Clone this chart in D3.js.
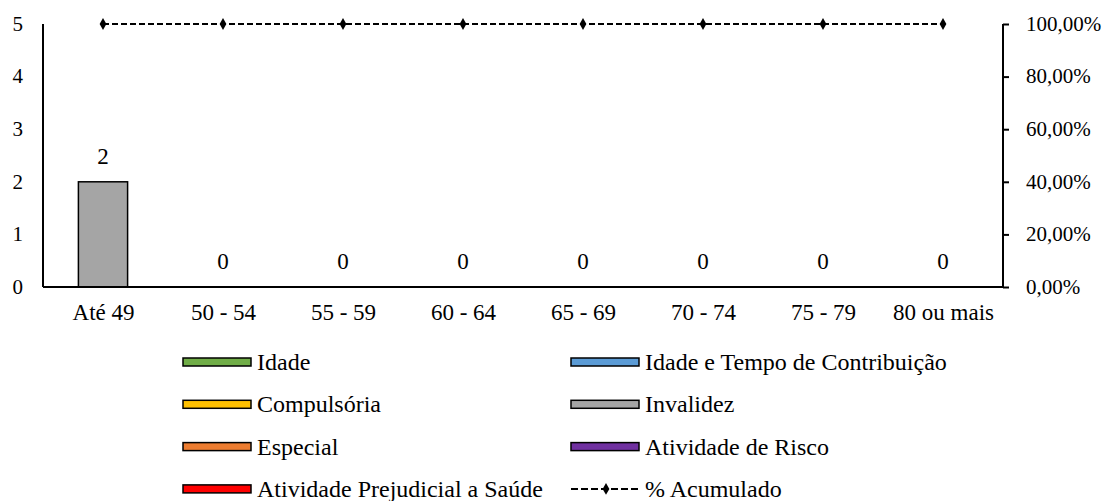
<!DOCTYPE html>
<html>
<head>
<meta charset="utf-8">
<script src="https://cdn.jsdelivr.net/npm/d3@7"></script>
<style>
  body { margin: 0; background: #fff; }
  #chart text { font-family: "Liberation Serif", serif; fill: #000; }
  #chart .eixo-y text { font-size: 21px; }
  #chart .eixo-x text, #chart .rotulos text { font-size: 23px; }
  #chart .legenda text { font-size: 24px; }
</style>
</head>
<body>
<svg id="chart" width="1112" height="501"></svg>
<script>
// faixas etárias
var categorias = ["Até 49", "50 - 54", "55 - 59", "60 - 64", "65 - 69", "70 - 74", "75 - 79", "80 ou mais"];

// séries (quantidade por tipo)
var idade                = [0, 0, 0, 0, 0, 0, 0, 0];
var idadeTempo           = [0, 0, 0, 0, 0, 0, 0, 0];
var compulsoria          = [0, 0, 0, 0, 0, 0, 0, 0];
var invalidez            = [2, 0, 0, 0, 0, 0, 0, 0];
var especial             = [0, 0, 0, 0, 0, 0, 0, 0];
var atividadeRisco       = [0, 0, 0, 0, 0, 0, 0, 0];
var atividadePrejudicial = [0, 0, 0, 0, 0, 0, 0, 0];
var acumulado            = [1, 1, 1, 1, 1, 1, 1, 1];

var ticksEsq = [0, 1, 2, 3, 4, 5];
var ticksDir = [0, 0.2, 0.4, 0.6, 0.8, 1];

var series = [
  {key: "idade", nome: "Idade", cor: "#70ad47", v: idade},
  {key: "idadeTempo", nome: "Idade e Tempo de Contribuição", cor: "#5b9bd5", v: idadeTempo},
  {key: "compulsoria", nome: "Compulsória", cor: "#ffc000", v: compulsoria},
  {key: "invalidez", nome: "Invalidez", cor: "#a5a5a5", v: invalidez},
  {key: "especial", nome: "Especial", cor: "#ed7d31", v: especial},
  {key: "atividadeRisco", nome: "Atividade de Risco", cor: "#7030a0", v: atividadeRisco},
  {key: "atividadePrejudicial", nome: "Atividade Prejudicial a Saúde", cor: "#ff0000", v: atividadePrejudicial}
];

var m = {l: 43, r: 1003, t: 24, b: 287};
var svg = d3.select("#chart");

var x = d3.scaleBand().domain(categorias).range([m.l, m.r]).paddingInner(0.59).paddingOuter(0.295);
var xc = d3.scalePoint().domain(categorias).range([m.l, m.r]).padding(0.5);
var y = d3.scaleLinear().domain([0, 5]).range([m.b, m.t]);
var y2 = d3.scaleLinear().domain([0, 1]).range([m.b, m.t]);

// tabela para o stack
var tabela = categorias.map(function (c, i) {
  var o = {cat: c};
  series.forEach(function (s) { o[s.key] = s.v[i]; });
  return o;
});
var stack = d3.stack().keys(series.map(function (s) { return s.key; }))(tabela);

svg.append("g").selectAll("g").data(stack).enter().append("g")
  .attr("fill", function (d, i) { return series[i].cor; })
  .selectAll("rect").data(function (d) { return d; }).enter()
  .filter(function (d) { return d[1] - d[0] > 0; })
  .append("rect")
  .attr("x", function (d) { return x(d.data.cat); })
  .attr("width", x.bandwidth())
  .attr("y", function (d) { return y(d[1]); })
  .attr("height", function (d) { return y(d[0]) - y(d[1]); })
  .attr("stroke", "#000").attr("stroke-width", 1.5);

// totais
var totais = categorias.map(function (c, i) {
  return d3.sum(series, function (s) { return s.v[i]; });
});
svg.append("g").attr("class", "rotulos").selectAll("text").data(totais).enter().append("text")
  .attr("x", function (d, i) { return xc(categorias[i]); })
  .attr("y", function (d) { return y(d) - 18; })
  .attr("text-anchor", "middle")
  .text(function (d) { return d; });

// eixos
var axEsq = svg.append("g").attr("class", "eixo-y").attr("transform", "translate(" + m.l + ",0)")
  .call(d3.axisLeft(y).tickValues(ticksEsq).tickSize(0).tickPadding(20).tickFormat(d3.format("d")));
var axDir = svg.append("g").attr("class", "eixo-y").attr("transform", "translate(" + m.r + ",0)")
  .call(d3.axisRight(y2).tickValues(ticksDir).tickSize(6).tickPadding(17)
    .tickFormat(function (d) { return (d * 100).toFixed(2).replace(".", ",") + "%"; }));
var axBase = svg.append("g").attr("class", "eixo-x").attr("transform", "translate(0," + m.b + ")")
  .call(d3.axisBottom(xc).tickSize(0).tickPadding(17));

[axEsq, axDir, axBase].forEach(function (a) {
  a.attr("font-family", null).attr("font-size", null);
  a.select(".domain").attr("stroke", "#000").attr("stroke-width", 2);
  a.selectAll(".tick line").attr("stroke", "#000").attr("stroke-width", 2);
});
axEsq.select(".domain").attr("d", "M0," + m.t + "V" + m.b);
axDir.select(".domain").attr("d", "M0," + m.t + "V" + m.b);
axBase.select(".domain").attr("d", "M" + m.l + ",0H" + m.r);
axEsq.selectAll("text").attr("dy", "0.3em");
axDir.selectAll("text").attr("dy", "0.3em");
axBase.selectAll("text").attr("dy", "0.71em");

// linha % acumulado
var linha = d3.line()
  .x(function (d, i) { return xc(categorias[i]); })
  .y(function (d) { return y2(d); });
svg.append("path").datum(acumulado).attr("d", linha)
  .attr("fill", "none").attr("stroke", "#000").attr("stroke-width", 2).attr("stroke-dasharray", "6,3");
var diamante = d3.symbol().type(d3.symbolDiamond).size(40);
svg.append("g").selectAll("path").data(acumulado).enter().append("path")
  .attr("d", diamante)
  .attr("transform", function (d, i) { return "translate(" + xc(categorias[i]) + "," + y2(d) + ")"; })
  .attr("fill", "#000");

// legenda
var legItens = [series[0], series[1], series[2], series[3], series[4], series[5], series[6], {nome: "% Acumulado", linha: true}];
var leg = svg.append("g").attr("class", "legenda");
legItens.forEach(function (it, i) {
  var col = i % 2, row = Math.floor(i / 2);
  var lx = col === 0 ? 183 : 571, ly = 362 + row * 42.3;
  var g = leg.append("g").attr("transform", "translate(" + lx + "," + ly + ")");
  if (it.linha) {
    g.append("line").attr("x1", 0).attr("x2", 68).attr("y1", 0).attr("y2", 0)
      .attr("stroke", "#000").attr("stroke-width", 2).attr("stroke-dasharray", "7,3");
    g.append("path").attr("d", diamante).attr("transform", "translate(35,0)").attr("fill", "#000");
  } else {
    g.append("rect").attr("x", 0).attr("y", -4).attr("width", 68).attr("height", 8)
      .attr("fill", it.cor).attr("stroke", "#000").attr("stroke-width", 1.5);
  }
  g.append("text").attr("x", 74).attr("y", 0).attr("dy", "0.33em").text(it.nome);
});
</script>
</body>
</html>
